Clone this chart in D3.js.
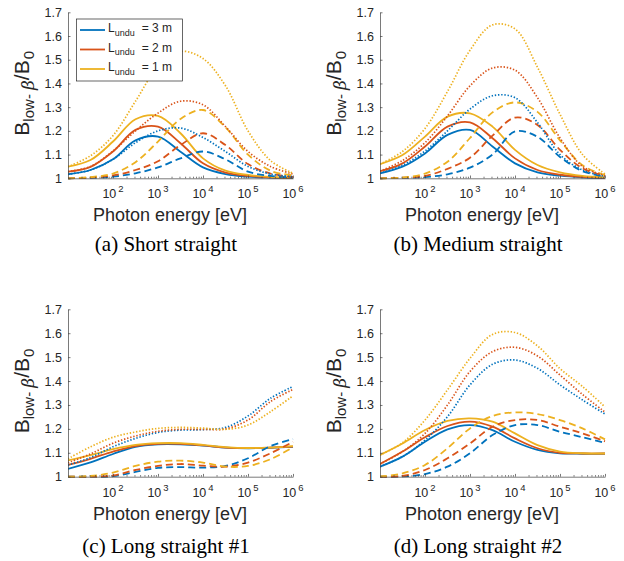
<!DOCTYPE html>
<html>
<head>
<meta charset="utf-8">
<script src="https://cdn.jsdelivr.net/npm/d3@7"></script>
<style>
  body { margin: 0; background: #fff; }
  svg text { font-family: "Liberation Sans", Arial, sans-serif; fill: #262626; }
  svg text.caption { font-family: "Liberation Serif", "Times New Roman", serif; fill: #000; }
</style>
</head>
<body>
<svg width="624" height="561"></svg>
<script>
// photon energy samples, as log10(E / eV)
const energyExp = [1, 1.5, 2, 2.5, 3, 3.5, 4, 4.5, 5, 5.5, 6];
const undulatorLengths = ["3 m", "2 m", "1 m"];
const captions = ["(a) Short straight", "(b) Medium straight", "(c) Long straight #1", "(d) Long straight #2"];
const yTicks = [1, 1.1, 1.2, 1.3, 1.4, 1.5, 1.6, 1.7];
const xTickExp = [2, 3, 4, 5, 6];

// rows: L = 3 m, 2 m, 1 m
const shortSolid = [
  [1.017, 1.035, 1.080, 1.160, 1.176, 1.112, 1.046, 1.018, 1.007, 1.003, 1.001],
  [1.028, 1.048, 1.113, 1.204, 1.218, 1.148, 1.063, 1.024, 1.010, 1.004, 1.002],
  [1.049, 1.077, 1.155, 1.249, 1.263, 1.190, 1.084, 1.032, 1.014, 1.006, 1.003]];
const shortDashed = [
  [1.000, 1.002, 1.007, 1.021, 1.046, 1.084, 1.113, 1.080, 1.028, 1.010, 1.003],
  [1.000, 1.003, 1.012, 1.035, 1.072, 1.140, 1.190, 1.140, 1.060, 1.020, 1.006],
  [1.000, 1.005, 1.020, 1.068, 1.155, 1.250, 1.288, 1.215, 1.100, 1.032, 1.012]];
const shortDotted = [
  [1.017, 1.035, 1.080, 1.150, 1.200, 1.212, 1.172, 1.113, 1.050, 1.018, 1.007],
  [1.028, 1.050, 1.115, 1.200, 1.275, 1.325, 1.310, 1.218, 1.113, 1.050, 1.018],
  [1.049, 1.095, 1.180, 1.325, 1.470, 1.535, 1.505, 1.390, 1.200, 1.075, 1.021]];

const mediumSolid = [
  [1.021, 1.049, 1.105, 1.183, 1.204, 1.134, 1.063, 1.025, 1.011, 1.004, 1.001],
  [1.030, 1.063, 1.134, 1.218, 1.236, 1.169, 1.084, 1.035, 1.015, 1.006, 1.002],
  [1.060, 1.098, 1.176, 1.260, 1.274, 1.218, 1.120, 1.056, 1.025, 1.010, 1.004]];
const mediumDashed = [
  [1.000, 1.002, 1.005, 1.017, 1.045, 1.100, 1.198, 1.175, 1.090, 1.030, 1.007],
  [1.000, 1.003, 1.010, 1.040, 1.087, 1.180, 1.256, 1.225, 1.120, 1.042, 1.010],
  [1.000, 1.003, 1.020, 1.070, 1.170, 1.278, 1.320, 1.280, 1.160, 1.055, 1.013]];
const mediumDotted = [
  [1.021, 1.055, 1.115, 1.200, 1.292, 1.348, 1.340, 1.235, 1.100, 1.035, 1.008],
  [1.030, 1.075, 1.150, 1.263, 1.390, 1.465, 1.456, 1.340, 1.170, 1.050, 1.012],
  [1.060, 1.113, 1.210, 1.366, 1.540, 1.647, 1.630, 1.468, 1.270, 1.100, 1.018]];

const long1Solid = [
  [1.033, 1.060, 1.095, 1.125, 1.135, 1.135, 1.130, 1.122, 1.119, 1.121, 1.125],
  [1.049, 1.075, 1.105, 1.128, 1.137, 1.137, 1.131, 1.122, 1.120, 1.122, 1.126],
  [1.068, 1.090, 1.115, 1.133, 1.140, 1.140, 1.133, 1.124, 1.120, 1.122, 1.128]];
const long1Dashed = [
  [1.000, 1.000, 1.002, 1.020, 1.037, 1.040, 1.038, 1.045, 1.077, 1.128, 1.157],
  [1.000, 1.000, 1.005, 1.028, 1.045, 1.053, 1.046, 1.042, 1.059, 1.098, 1.146],
  [1.000, 1.003, 1.017, 1.045, 1.063, 1.067, 1.059, 1.042, 1.045, 1.073, 1.123]];
const long1Dotted = [
  [1.048, 1.080, 1.125, 1.160, 1.185, 1.195, 1.197, 1.206, 1.254, 1.328, 1.377],
  [1.058, 1.095, 1.140, 1.170, 1.190, 1.198, 1.198, 1.200, 1.237, 1.314, 1.365],
  [1.075, 1.125, 1.165, 1.187, 1.202, 1.206, 1.203, 1.198, 1.216, 1.272, 1.338]];

const long2Solid = [
  [1.042, 1.084, 1.146, 1.198, 1.216, 1.195, 1.146, 1.112, 1.098, 1.096, 1.096],
  [1.053, 1.105, 1.165, 1.212, 1.230, 1.209, 1.160, 1.119, 1.100, 1.097, 1.097],
  [1.091, 1.139, 1.195, 1.233, 1.244, 1.230, 1.181, 1.132, 1.105, 1.098, 1.097]];
const long2Dashed = [
  [1.000, 1.001, 1.011, 1.042, 1.098, 1.174, 1.216, 1.216, 1.188, 1.165, 1.141],
  [1.000, 1.003, 1.028, 1.077, 1.139, 1.209, 1.237, 1.237, 1.209, 1.181, 1.148],
  [1.001, 1.014, 1.049, 1.119, 1.202, 1.254, 1.269, 1.262, 1.237, 1.202, 1.156]];
const long2Dotted = [
  [1.042, 1.084, 1.153, 1.251, 1.384, 1.470, 1.488, 1.453, 1.384, 1.321, 1.262],
  [1.053, 1.105, 1.181, 1.300, 1.440, 1.523, 1.541, 1.505, 1.425, 1.344, 1.270],
  [1.091, 1.142, 1.237, 1.363, 1.495, 1.595, 1.603, 1.547, 1.452, 1.377, 1.292]];

const colors = ["#0072BD", "#D95319", "#EDB120"];
const styles = {
  solid:  {dash: null,    width: 1.8},
  dashed: {dash: "7,4",   width: 1.8},
  dotted: {dash: "1.4,1.8", width: 1.7}
};

const panels = [
  {left: 68,  top: 12.3,  bottom: 178.3, sets: {solid: shortSolid,  dashed: shortDashed,  dotted: shortDotted},  legend: true},
  {left: 380, top: 12.3,  bottom: 178.3, sets: {solid: mediumSolid, dashed: mediumDashed, dotted: mediumDotted}},
  {left: 68,  top: 309.3, bottom: 476.7, sets: {solid: long1Solid,  dashed: long1Dashed,  dotted: long1Dotted}},
  {left: 380, top: 309.3, bottom: 476.7, sets: {solid: long2Solid,  dashed: long2Dashed,  dotted: long2Dotted}}
];
const plotW = 225;

const svg = d3.select("svg");

panels.forEach(function(p, pi) {
  var x = d3.scaleLog().domain([10, 1e6]).range([p.left, p.left + plotW]);
  var y = d3.scaleLinear().domain([1, 1.7]).range([p.bottom, p.top]);
  var g = svg.append("g");

  // clip
  var clipId = "clip" + pi;
  g.append("clipPath").attr("id", clipId).append("rect")
    .attr("x", p.left).attr("y", p.top - 2).attr("width", plotW + 2).attr("height", p.bottom - p.top + 4);

  // curves
  var line = d3.line()
    .x(function(d, i) { return x(Math.pow(10, energyExp[i])); })
    .y(function(d) { return y(d); })
    .curve(d3.curveCatmullRom.alpha(0.5));
  var curves = g.append("g").attr("clip-path", "url(#" + clipId + ")");
  ["solid", "dashed", "dotted"].forEach(function(st) {
    p.sets[st].forEach(function(vals, k) {
      curves.append("path")
        .attr("d", line(vals))
        .attr("fill", "none")
        .attr("stroke", colors[k])
        .attr("stroke-width", styles[st].width)
        .attr("stroke-dasharray", styles[st].dash);
    });
  });

  // y axis
  var yAxis = g.append("g")
    .attr("transform", "translate(" + p.left + ",0)")
    .call(d3.axisLeft(y).tickValues(yTicks).tickSize(-2.5).tickSizeOuter(0).tickPadding(6)
      .tickFormat(function(d) { return String(+d.toFixed(1)); }));
  yAxis.selectAll("text").style("font-size", "12.5px").attr("fill", "#333");

  // x axis, major and minor ticks
  var minor = [];
  for (var e = 1; e < 6; e++) for (var k = 2; k < 10; k++) minor.push(k * Math.pow(10, e));
  g.append("g")
    .attr("transform", "translate(0," + p.bottom + ")")
    .call(d3.axisBottom(x).tickValues(xTickExp.map(function(n) { return Math.pow(10, n); }))
      .tickSize(-2.8).tickSizeOuter(0).tickFormat(""));
  g.append("g")
    .attr("transform", "translate(0," + p.bottom + ")")
    .call(d3.axisBottom(x).tickValues(minor).tickSize(-1.6).tickSizeOuter(0).tickFormat(""))
    .select(".domain").remove();
  g.selectAll(".domain, .tick line").attr("stroke", "#404040").attr("stroke-width", 0.7);

  // x tick labels 10^n
  xTickExp.forEach(function(n) {
    var t = g.append("text")
      .attr("x", x(Math.pow(10, n)))
      .attr("y", p.bottom + 20)
      .attr("text-anchor", "middle")
      .attr("fill", "#333")
      .style("font-size", "12.5px");
    t.append("tspan").text("10");
    t.append("tspan").attr("dx", 2).attr("dy", -6).style("font-size", "9.5px").text(n);
  });

  // x label
  g.append("text")
    .attr("x", p.left + 102)
    .attr("y", p.bottom + 43)
    .attr("text-anchor", "middle")
    .style("font-size", "18px")
    .text("Photon energy [eV]");

  // y label
  var yl = g.append("text")
    .attr("transform", "translate(" + (p.left - 39) + "," + ((p.top + p.bottom) / 2 - 2) + ") rotate(-90)")
    .attr("text-anchor", "middle")
    .style("font-size", "21px");
  yl.append("tspan").text("B");
  yl.append("tspan").attr("dy", 5).style("font-size", "15px").text("low- ");
  yl.append("tspan").style("font-size", "17px").style("font-style", "italic").attr("font-family", "DejaVu Serif").text("\u03B2");
  yl.append("tspan").attr("dy", -5).text("/B");
  yl.append("tspan").attr("dy", 5).attr("dx", 1).style("font-size", "15px").text("0");

  // caption
  g.append("text")
    .attr("class", "caption")
    .attr("x", p.left + 98)
    .attr("y", p.bottom + (pi < 2 ? 73 : 76))
    .attr("text-anchor", "middle")
    .style("font-size", "21px")
    .text(captions[pi]);

  // legend
  if (p.legend) {
    var lg = g.append("g");
    lg.append("rect")
      .attr("x", 76.5).attr("y", 19).attr("width", 106).attr("height", 62)
      .attr("fill", "#fff").attr("stroke", "#262626").attr("stroke-width", 0.7);
    undulatorLengths.forEach(function(lbl, k) {
      var ly = 30 + k * 19.5;
      lg.append("line")
        .attr("x1", 80).attr("x2", 105).attr("y1", ly).attr("y2", ly)
        .attr("stroke", colors[k]).attr("stroke-width", 1.8);
      var t = lg.append("text").attr("x", 108).attr("y", ly + 2).style("font-size", "12px");
      t.append("tspan").text("L");
      t.append("tspan").attr("dy", 3.5).style("font-size", "9px").text("undu");
      t.append("tspan").attr("dy", -3.5).attr("dx", 7).text("= " + lbl);
    });
  }
});
</script>
</body>
</html>
